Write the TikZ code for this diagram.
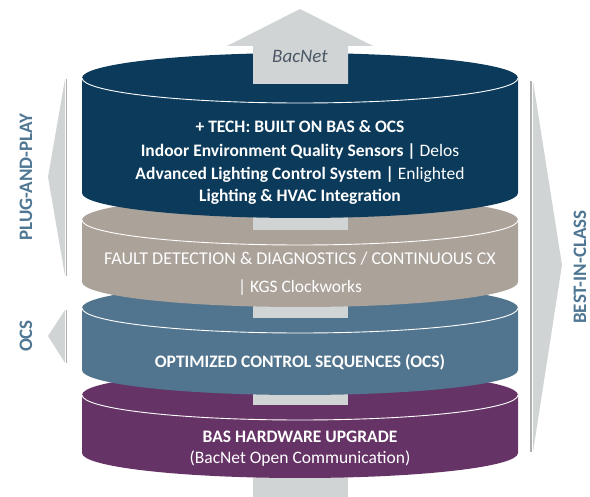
\documentclass[tikz,border=0pt]{standalone}
\usepackage{fontspec}
\setmainfont{Carlito}
\definecolor{navycyl}{HTML}{0B3A5B}
\definecolor{taupecyl}{HTML}{ABA29A}
\definecolor{bluecyl}{HTML}{52758F}
\definecolor{purplecyl}{HTML}{663366}
\definecolor{arrowgray}{HTML}{D1D4D5}
\definecolor{linegray}{HTML}{AFAFAF}
\definecolor{sidetext}{HTML}{4F7794}
\definecolor{bacnettext}{HTML}{4B5866}
\newcommand\cylbody[3]{%
  \fill[#1] (82,#2) -- (82,#3) arc[start angle=180,end angle=0,x radius=218,y radius=25]
    -- (518,#2) arc[start angle=0,end angle=-180,x radius=218,y radius=25] -- cycle;
  \draw[white,line width=0.9pt] (82,#2) arc[start angle=180,end angle=0,x radius=218,y radius=25];
}
\begin{document}
\begin{tikzpicture}[x=1pt,y=-1pt,
  shaft/.style={fill=arrowgray},
  sidearrow/.style={fill=arrowgray},
  sideline/.style={draw=linegray,line width=1.6pt},
  sidelabel/.style={rotate=90,text=sidetext,font=\bfseries\fontsize{19}{22}\selectfont},
  cyltext/.style={text=white,font=\fontsize{17.5}{20}\selectfont,inner sep=0pt}]
\useasboundingbox (0,0) rectangle (590,497);
% side arrows
\fill[sidearrow] (65,79) -- (48,177) -- (65,276) -- cycle;
\draw[sideline] (66.5,79) -- (66.5,276);
\fill[sidearrow] (65,310) -- (48,336) -- (65,363) -- cycle;
\draw[sideline] (66.5,310) -- (66.5,363);
\fill[sidearrow] (533,81) -- (562,265) -- (533,452) -- cycle;
\draw[sideline] (531,81) -- (531,452);
\node[sidelabel] (plug) at (26,177) {PLUG-AND-PLAY};
\node[sidelabel] (ocsl) at (26,336) {OCS};
\node[sidelabel] (best) at (580,267) {BEST-IN-CLASS};
% bottom shaft
\fill[shaft] (253,465) rectangle (348,497);
% purple
\cylbody{purplecyl}{395}{453}
\fill[shaft] (253,380) rectangle (348,405);
% blue
\cylbody{bluecyl}{308}{370}
\fill[shaft] (253,295) rectangle (348,318);
% taupe
\cylbody{taupecyl}{220}{282}
\fill[shaft] (253,205) rectangle (348,230);
% navy
\cylbody{navycyl}{78}{193}
% BacNet arrow
\fill[shaft] (253,84) -- (253,46) -- (227,46) -- (300,9) -- (373,46) -- (348,46) -- (348,84) -- cycle;
\node[text=bacnettext,font=\itshape\fontsize{19}{22}\selectfont] (bacnet) at (300,56) {BacNet};
% texts
\node[cyltext,font=\bfseries\fontsize{17.5}{20}\selectfont] (tech) at (300,127) {+ TECH: BUILT ON BAS \& OCS};
\node[cyltext] (ieq) at (300,152) {\textbf{Indoor Environment Quality Sensors |} Delos};
\node[cyltext] (alc) at (300,175) {\textbf{Advanced Lighting Control System |} Enlighted};
\node[cyltext,font=\bfseries\fontsize{17.5}{20}\selectfont] (lhv) at (300,197) {Lighting \& HVAC Integration};
\node[cyltext,font=\fontsize{18}{20}\selectfont] (fdd) at (300,259) {FAULT DETECTION \& DIAGNOSTICS / CONTINUOUS CX};
\node[cyltext] (kgs) at (300,288) {| KGS Clockworks};
\node[cyltext,font=\bfseries\fontsize{17.5}{20}\selectfont] (ocs) at (300,362) {OPTIMIZED CONTROL SEQUENCES (OCS)};
\node[cyltext,font=\bfseries\fontsize{17.5}{20}\selectfont] (bas) at (300,437) {BAS HARDWARE UPGRADE};
\node[cyltext] (bacopen) at (300,459) {(BacNet Open Communication)};
\end{tikzpicture}
\end{document}
